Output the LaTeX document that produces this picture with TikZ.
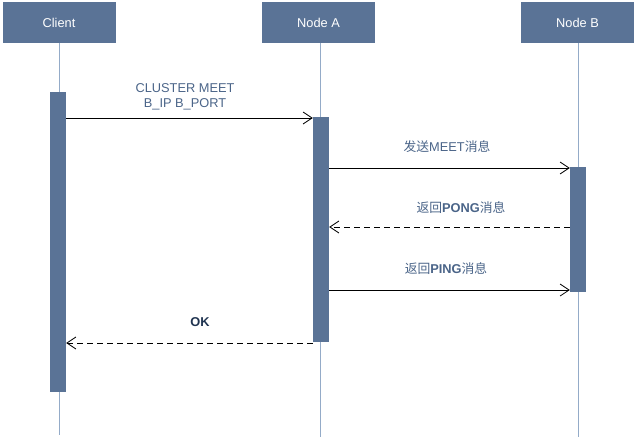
\documentclass[tikz,border=0pt]{standalone}
\usepackage{fontspec}
\setmainfont{Liberation Sans}
\newfontfamily\cjk{Noto Sans CJK SC}
\usetikzlibrary{arrows.meta}
\definecolor{boxblue}{HTML}{5A7396}
\definecolor{lifeline}{HTML}{94ABC8}
\definecolor{labelblue}{HTML}{4A6488}
\definecolor{okblue}{HTML}{1F3350}
\tikzset{
  header/.style={fill=boxblue, draw=none, text=white, minimum width=113pt, minimum height=41pt, inner sep=0pt, font=\fontsize{12.8}{14}\selectfont},
  actbar/.style={fill=boxblue, draw=none, minimum width=16pt, inner sep=0pt},
  lifel/.style={draw=lifeline, line width=0.9pt},
  msg/.style={draw=black, line width=0.8pt, -{Straight Barb[length=9pt,width=12pt]}},
  reply/.style={msg, dashed, dash pattern=on 6pt off 4pt},
  lbl/.style={text=labelblue, font=\fontsize{12.8}{14.5}\selectfont, inner sep=0pt, align=center},
}
\begin{document}
\begin{tikzpicture}[x=1pt,y=-1pt]
\useasboundingbox (0,0) rectangle (636,439);
% headers
\node[header] (hC) at (59,22.5) {Client};
\node[header] (hA) at (318.5,22.5) {Node A};
\node[header] (hB) at (577.5,22.5) {Node B};
% lifeline ends
\coordinate (eC) at (59,435);
\coordinate (eA) at (320,437);
\coordinate (eB) at (578,437);
\draw[lifel] (hC.south) -- (eC);
\draw[lifel] (hA.south -| eA) -- (eA);
\draw[lifel] (hB.south -| eB) -- (eB);
% activation bars
\node[actbar, minimum height=300pt] (aC) at (58,242) {};
\node[actbar, minimum height=225pt] (aA) at (321,229.5) {};
\node[actbar, minimum height=125pt] (aB) at (578,229.5) {};
% message levels
\coordinate (m1) at (0,118);
\coordinate (m2) at (0,168);
\coordinate (m3) at (0,227);
\coordinate (m4) at (0,290);
\coordinate (m5) at (0,343);
\draw[msg] (aC.east |- m1) -- (aA.west |- m1);
\draw[msg] (aA.east |- m2) -- (aB.west |- m2);
\draw[reply] (aB.west |- m3) -- (aA.east |- m3);
\draw[msg] (aA.east |- m4) -- (aB.west |- m4);
\draw[reply] (aA.west |- m5) -- (aC.east |- m5);
% labels
\node[lbl] (l1) at (185,97) {CLUSTER MEET\\B\_IP B\_PORT};
\node[lbl] (l2) at (447,147) {{\cjk 发送}MEET{\cjk 消息}};
\node[lbl] (l3) at (461,208) {{\cjk 返回}\textbf{PONG}{\cjk 消息}};
\node[lbl] (l4) at (446,269) {{\cjk 返回}\textbf{PING}{\cjk 消息}};
\node[lbl, text=okblue] (l5) at (200,322) {\textbf{OK}};
\end{tikzpicture}
\end{document}
